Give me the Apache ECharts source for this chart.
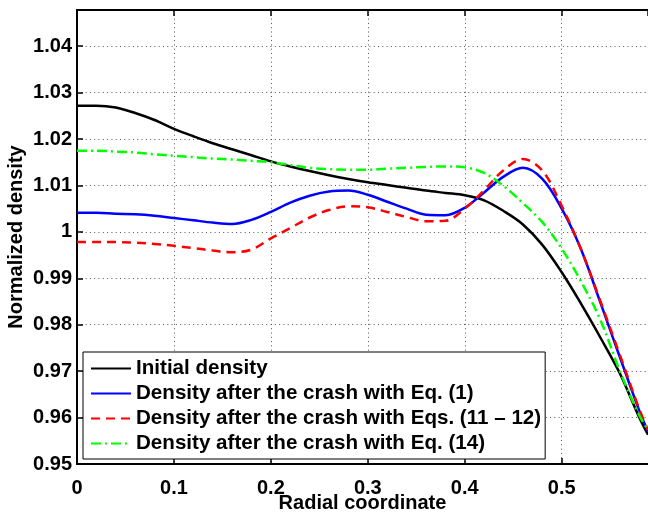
<!DOCTYPE html>
<html>
<head>
<meta charset="utf-8">
<script src="https://cdn.jsdelivr.net/npm/echarts@6/dist/echarts.min.js"></script>
<style>html,body{margin:0;padding:0;background:#fff}#c{width:648px;height:513px}</style>
</head>
<body>
<div id="c"></div>
<script>
var xs = [0, 0.02, 0.04, 0.06, 0.08, 0.10, 0.12, 0.14, 0.16, 0.18, 0.20, 0.22, 0.24, 0.26, 0.28, 0.30, 0.32, 0.34, 0.36, 0.38, 0.40, 0.42, 0.44, 0.46, 0.48, 0.50, 0.52, 0.54, 0.56, 0.58, 0.589];
var initialDensity = [1.0272, 1.0272, 1.0268, 1.0256, 1.0241, 1.0222, 1.0206, 1.0191, 1.0178, 1.0165, 1.0152, 1.0141, 1.0131, 1.0122, 1.0114, 1.0107, 1.0101, 1.0095, 1.0089, 1.0084, 1.0079, 1.0068, 1.0045, 1.0016, 0.9972, 0.9913, 0.9845, 0.9772, 0.9695, 0.9600, 0.9563];
var densityEq1 = [1.0041, 1.0041, 1.0039, 1.0038, 1.0035, 1.0030, 1.0025, 1.0020, 1.0017, 1.0026, 1.0043, 1.0063, 1.0078, 1.0087, 1.0089, 1.0080, 1.0065, 1.0050, 1.0037, 1.0036, 1.0052, 1.0085, 1.0119, 1.0138, 1.0114, 1.0050, 0.9962, 0.9847, 0.9730, 0.9615, 0.9570];
var densityEq1112 = [0.9978, 0.9978, 0.9978, 0.9977, 0.9974, 0.9970, 0.9965, 0.9960, 0.9956, 0.9962, 0.9986, 1.0008, 1.0031, 1.0047, 1.0055, 1.0053, 1.0043, 1.0032, 1.0023, 1.0024, 1.0050, 1.0090, 1.0133, 1.0157, 1.0132, 1.0056, 0.9962, 0.9850, 0.9735, 0.9618, 0.9573];
var densityEq14 = [1.0175, 1.0175, 1.0173, 1.0171, 1.0167, 1.0164, 1.0161, 1.0158, 1.0156, 1.0153, 1.0150, 1.0144, 1.0138, 1.0135, 1.0134, 1.0134, 1.0136, 1.0138, 1.0140, 1.0141, 1.0139, 1.0127, 1.0099, 1.0062, 1.0021, 0.9964, 0.9893, 0.9810, 0.9700, 0.9605, 0.9573];
var seriesNames = ['Initial density', 'Density after the crash with Eq. (1)', 'Density after the crash with Eqs. (11 \u2013 12)', 'Density after the crash with Eq. (14)'];

function pairs(ys) { return xs.map(function (x, i) { return [x, ys[i]]; }); }

var FONT = 'Liberation Sans';
var chart = echarts.init(document.getElementById('c'), null, {renderer: 'canvas'});
var gridLine = {show: true, lineStyle: {type: [1, 3.3], color: '#555', width: 1}};
chart.setOption({
  animation: false,
  backgroundColor: '#fff',
  grid: {left: 77, right: 0, top: 10, bottom: 49, containLabel: false, outerBoundsMode: 'none'},
  xAxis: [{
    type: 'value', min: 0, max: 0.589, interval: 0.1, position: 'bottom',
    name: 'Radial coordinate', nameLocation: 'middle', nameGap: 29, nameMoveOverlap: false,
    nameTextStyle: {fontFamily: FONT, fontSize: 20, fontWeight: 'bold', color: '#000'},
    axisLine: {show: true, onZero: false, lineStyle: {color: '#000', width: 2}},
    axisTick: {show: true, inside: true, length: 6, lineStyle: {color: '#000', width: 1.5}},
    axisLabel: {showMaxLabel: false, margin: 14, fontFamily: FONT, fontSize: 20, fontWeight: 'bold', color: '#000',
      formatter: function (v) { return v === 0 ? '0' : v.toFixed(1); }},
    splitLine: gridLine
  }, {
    type: 'value', min: 0, max: 0.589, interval: 0.1, position: 'top',
    axisLine: {show: true, onZero: false, lineStyle: {color: '#000', width: 2}},
    axisTick: {show: true, inside: true, length: 6, lineStyle: {color: '#000', width: 1.5}},
    axisLabel: {show: false}, splitLine: {show: false}
  }],
  yAxis: {
    type: 'value', min: 0.95, max: 1.0478, interval: 0.01,
    name: 'Normalized density', nameLocation: 'middle', nameGap: 51, nameMoveOverlap: false,
    nameTextStyle: {fontFamily: FONT, fontSize: 20, fontWeight: 'bold', color: '#000'},
    axisLine: {show: true, onZero: false, lineStyle: {color: '#000', width: 2}},
    axisTick: {show: true, inside: true, length: 6, lineStyle: {color: '#000', width: 1.5}},
    axisLabel: {showMaxLabel: false, margin: 5, fontFamily: FONT, fontSize: 20, fontWeight: 'bold', color: '#000',
      formatter: function (v) { return Math.abs(v - 1) < 1e-9 ? '1' : v.toFixed(2); }},
    splitLine: gridLine
  },
  legend: {
    orient: 'vertical', left: 83, top: 352,
    padding: [6, 4, 5, 7], itemGap: 4, itemWidth: 40, itemHeight: 14,
    backgroundColor: '#fff', borderColor: '#000', borderWidth: 1, borderRadius: 0,
    itemStyle: {color: 'rgba(0,0,0,0)', borderColor: 'rgba(0,0,0,0)', borderWidth: 0, opacity: 0},
    textStyle: {fontFamily: FONT, fontSize: 20.6, fontWeight: 'bold', color: '#000', lineHeight: 20},
    data: seriesNames
  },
  series: [
    {name: seriesNames[0], type: 'line', data: pairs(initialDensity), smooth: 0.35, symbol: 'none',
      lineStyle: {color: '#000', width: 2.5}, itemStyle: {color: '#000'}},
    {name: seriesNames[1], type: 'line', data: pairs(densityEq1), smooth: 0.35, symbol: 'none',
      lineStyle: {color: '#0000ff', width: 2.5}, itemStyle: {color: '#0000ff'}},
    {name: seriesNames[2], type: 'line', data: pairs(densityEq1112), smooth: 0.35, symbol: 'none',
      lineStyle: {color: '#ff0000', width: 2.5, type: [9, 6]}, itemStyle: {color: '#ff0000'}},
    {name: seriesNames[3], type: 'line', data: pairs(densityEq14), smooth: 0.35, symbol: 'none',
      lineStyle: {color: '#00ff00', width: 2.5, type: [10, 4, 2, 4]}, itemStyle: {color: '#00ff00'}}
  ]
});
</script>
</body>
</html>
